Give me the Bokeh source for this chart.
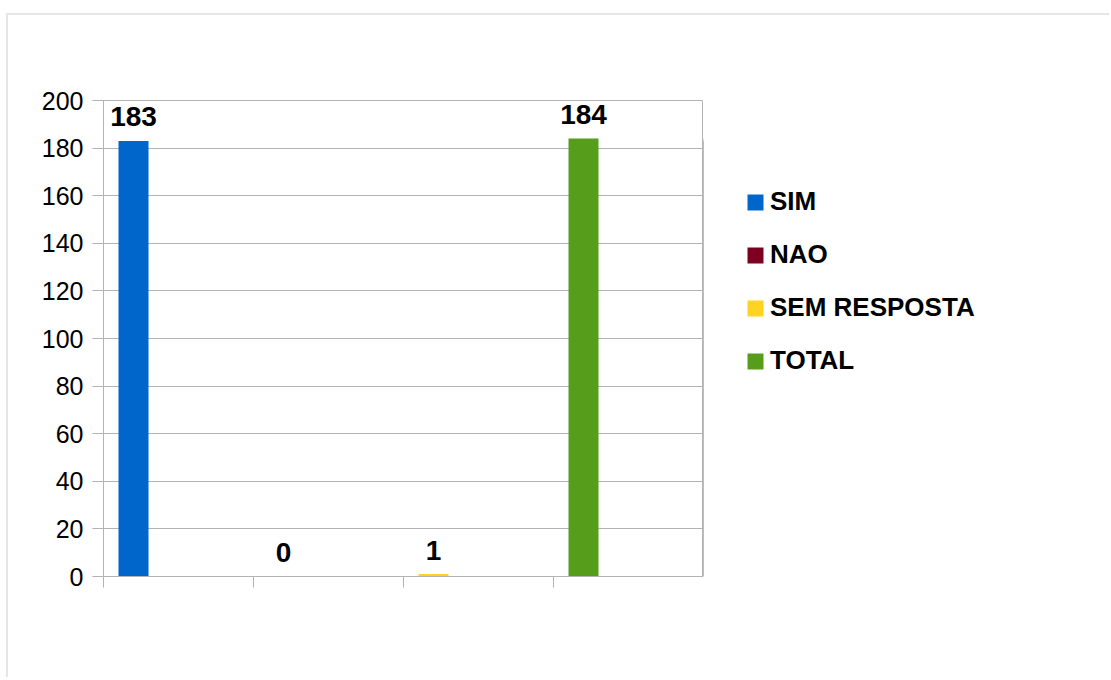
from bokeh.plotting import figure
from bokeh.layouts import row
from bokeh.models import (ColumnDataSource, FixedTicker, Legend, LegendItem)
from bokeh.core.properties import value
from bokeh.embed import file_html
from bokeh.resources import INLINE

categories = ["SIM", "NAO", "SEM RESPOSTA", "TOTAL"]
values = [183, 0, 1, 184]
colors = ["#0066cc", "#7e0021", "#ffd320", "#579d1c"]
y_ticks = [0, 20, 40, 60, 80, 100, 120, 140, 160, 180, 200]
FONT = "Liberation Sans"

xpos = [i + 0.2 for i in range(len(categories))]
src = ColumnDataSource(dict(x=xpos, top=values, cat=categories, color=colors,
                            label=[str(v) for v in values]))

p = figure(width=695, height=664, output_backend="svg", toolbar_location=None,
           x_range=(0, 4), y_range=(0, 200),
           min_border_left=95, min_border_top=85, min_border_bottom=103, min_border_right=0)
p.background_fill_color = "white"
p.border_fill_color = "white"
p.outline_line_color = "#b3b3b3"
p.outline_line_width = 1

p.xgrid.grid_line_color = None
p.ygrid.grid_line_color = "#b3b3b3"
p.ygrid.ticker = FixedTicker(ticks=y_ticks)

p.yaxis.ticker = FixedTicker(ticks=y_ticks)
p.yaxis.axis_line_color = "#b3b3b3"
p.yaxis.major_tick_line_color = "#b3b3b3"
p.yaxis.major_tick_in = 0
p.yaxis.major_tick_out = 11
p.yaxis.minor_tick_line_color = None
p.yaxis.major_label_standoff = 9
p.yaxis.major_label_text_font = FONT
p.yaxis.major_label_text_font_size = "25px"
p.yaxis.major_label_text_color = "black"

p.xaxis.ticker = FixedTicker(ticks=[0, 1, 2, 3, 4])
p.xaxis.axis_line_color = "#b3b3b3"
p.xaxis.major_tick_line_color = "#b3b3b3"
p.xaxis.major_tick_in = 0
p.xaxis.major_tick_out = 11
p.xaxis.minor_tick_line_color = None
p.xaxis.major_label_text_font_size = "0px"
p.xaxis.major_label_text_color = None

p.vbar(x="x", top="top", width=0.2, bottom=0, fill_color="color", line_color=None, source=src)

p.text(x="x", y="top", text="label", source=src, text_align="center", text_baseline="alphabetic",
       y_offset=-24, text_font=value(FONT), text_font_style="bold", text_font_size="28px",
       text_color="black")

# legend panel: a second figure whose view range excludes the key glyphs
p2 = figure(width=408, height=664, output_backend="svg", toolbar_location=None,
            x_range=(100, 101), y_range=(0, 200), x_axis_type=None, y_axis_type=None,
            min_border_left=0, min_border_right=0, min_border_top=0, min_border_bottom=0)
p2.outline_line_color = None
p2.grid.grid_line_color = None
p2.background_fill_color = "white"
p2.border_fill_color = "white"
key = p2.vbar(x="x", top="top", width=0.2, bottom=0, fill_color="color", line_color=None, source=src)

items = [LegendItem(label=c, renderers=[key], index=i) for i, c in enumerate(categories)]
legend = Legend(items=items, location=(42, 200), orientation="vertical",
                glyph_width=20, glyph_height=20, label_height=16, label_standoff=5,
                spacing=22, padding=0, margin=0, border_line_color=None,
                background_fill_alpha=0, label_text_font=FONT, label_text_font_style="bold",
                label_text_font_size="26px", label_text_color="black")
p2.add_layout(legend, "center")

layout = row(p, p2, spacing=0)
layout.margin = (15, 0, 0, 8)
layout.styles = {"box-shadow": "-2px -2px 0 0 #e6e6e6"}

open("out.html", "w").write(file_html(layout, INLINE))
